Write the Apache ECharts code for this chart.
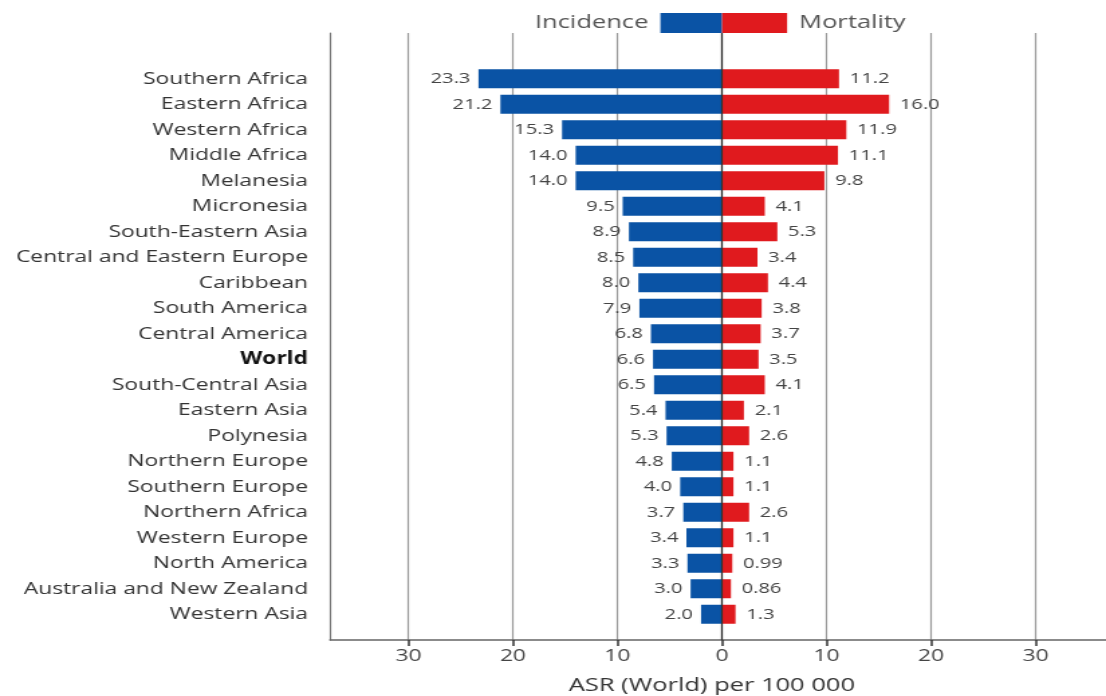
<!DOCTYPE html>
<html>
<head>
<meta charset="utf-8">
<script src="https://cdn.jsdelivr.net/npm/echarts@6/dist/echarts.min.js"></script>
<style>
html,body{margin:0;padding:0;background:#fff;overflow:hidden;}
#chart{width:825px;height:696px;transform:scaleX(1.34061);transform-origin:0 0;}
</style>
</head>
<body>
<div id="chart"></div>
<script>
const categories = ['Southern Africa','Eastern Africa','Western Africa','Middle Africa','Melanesia','Micronesia','South-Eastern Asia','Central and Eastern Europe','Caribbean','South America','Central America','World','South-Central Asia','Eastern Asia','Polynesia','Northern Europe','Southern Europe','Northern Africa','Western Europe','North America','Australia and New Zealand','Western Asia'];
const incidence = [23.3,21.2,15.3,14.0,14.0,9.5,8.9,8.5,8.0,7.9,6.8,6.6,6.5,5.4,5.3,4.8,4.0,3.7,3.4,3.3,3.0,2.0];
const mortality = [11.2,16.0,11.9,11.1,9.8,4.1,5.3,3.4,4.4,3.8,3.7,3.5,4.1,2.1,2.6,1.1,1.1,2.6,1.1,0.99,0.86,1.3];
const tickValues = [-30,-20,-10,0,10,20,30];
const axisTitle = 'ASR (World) per 100 000';

const FONT = '"Open Sans", "Noto Sans", sans-serif';
const BLUE = '#0a53a5';
const RED = '#e01a1e';
const fmt = v => { const a = Math.abs(v); return a < 1 ? a.toFixed(2) : a.toFixed(1); };

const chart = echarts.init(document.getElementById('chart'));
const option = {
  animation: false,
  backgroundColor: '#fff',
  legend: [
    {
      data: ['Incidence'], right: 286.4, top: 13, padding: 0, itemWidth: 46, itemHeight: 20, align: 'right',
      icon: 'rect', selectedMode: false,
      textStyle: {fontFamily: FONT, fontSize: 19, color: '#555', padding: [4, 4, 0, 0]}
    },
    {
      data: ['Mortality'], left: 538.6, top: 13, padding: 0, itemWidth: 48.5, itemHeight: 20, align: 'left',
      icon: 'rect', selectedMode: false,
      textStyle: {fontFamily: FONT, fontSize: 19, color: '#555', padding: [4, 0, 0, 4]}
    }
  ],
  grid: [
    {left: 246.2, right: 0, top: 66, height: 561},
    {left: 246.2, right: 0, top: 33, height: 607}
  ],
  xAxis: [
    {gridIndex: 0, type: 'value', min: -37.5, max: 36.75, show: false},
    {
      gridIndex: 1, type: 'value', min: -37.5, max: 36.75, splitNumber: 8,
      axisLine: {show: true, onZero: false, lineStyle: {color: '#666', width: 1.5}},
      axisTick: {show: true, length: 6, lineStyle: {color: '#333', width: 1.5},
        customValues: tickValues},
      splitLine: {show: true, lineStyle: {color: '#9a9a9a', width: 1.2}},
      axisLabel: {
        customValues: tickValues,
        formatter: v => String(Math.abs(v)),
        fontFamily: FONT, fontSize: 17, color: '#444', margin: 8
      }
    }
  ],
  yAxis: [
    {
      gridIndex: 0, type: 'category', data: categories, inverse: true,
      axisLine: {show: false}, axisTick: {show: false},
      axisLabel: {
        fontFamily: FONT, fontSize: 17, color: '#333', margin: 16.4,
        formatter: v => v === 'World' ? '{b|' + v + '}' : v,
        rich: {b: {fontFamily: FONT, fontSize: 17, fontWeight: 'bold', color: '#111'}}
      }
    },
    {
      gridIndex: 1, type: 'value', min: 0, max: 1,
      axisLine: {show: true, onZero: false, lineStyle: {color: '#777', width: 1.2}},
      axisTick: {show: false}, axisLabel: {show: false}, splitLine: {show: false}
    }
  ],
  graphic: [
    {type: 'text', x: 531, y: 676, style: {text: axisTitle, textAlign: 'center', fontFamily: FONT, fontSize: 19, fill: '#333'}}
  ],
  series: [
    {
      name: 'Incidence', type: 'bar', xAxisIndex: 0, yAxisIndex: 0,
      data: incidence.map(v => -v), barWidth: 19, barGap: '-100%',
      itemStyle: {color: BLUE},
      label: {show: true, position: 'left', distance: 6, formatter: p => fmt(p.value),
        fontFamily: FONT, fontSize: 15, color: '#444'}
    },
    {
      name: 'Mortality', type: 'bar', xAxisIndex: 0, yAxisIndex: 0,
      data: mortality, barWidth: 19, barGap: '-100%',
      itemStyle: {color: RED},
      label: {show: true, position: 'right', distance: 8, formatter: p => fmt(p.value),
        fontFamily: FONT, fontSize: 15, color: '#444'}
    },
    {
      name: 'zero', type: 'line', xAxisIndex: 1, yAxisIndex: 1, data: [], silent: true,
      markLine: {symbol: 'none', silent: true, label: {show: false},
        lineStyle: {color: '#333', width: 1.2, type: 'solid'}, data: [{xAxis: 0}]}
    }
  ]
};
chart.setOption(option);
</script>
</body>
</html>
